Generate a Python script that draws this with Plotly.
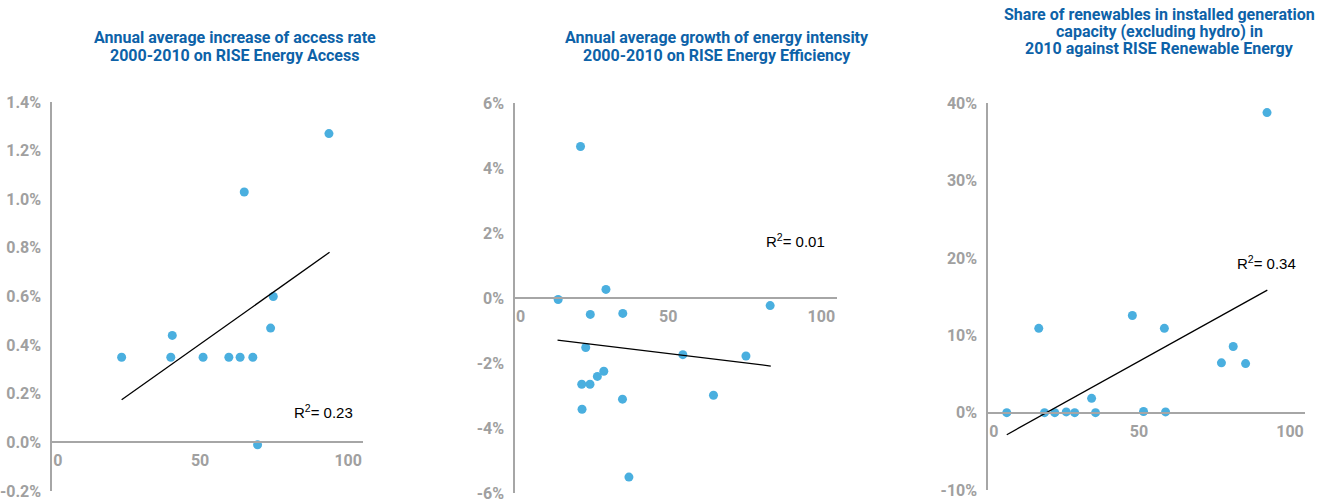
import plotly.graph_objects as go

# panel 1: access rate growth vs RISE Energy Access
access_x = [23.5, 40.1, 40.6, 51.0, 59.7, 63.5, 67.8, 64.9, 73.8, 74.7, 69.4, 93.5]
access_y = [0.35, 0.35, 0.44, 0.35, 0.35, 0.35, 0.35, 1.03, 0.47, 0.60, -0.01, 1.27]
access_trend_x = [23.5, 93.7]
access_trend_y = [0.175, 0.782]

# panel 2: energy intensity growth vs RISE Energy Efficiency
eff_x = [14.1, 21.4, 29.7, 24.6, 35.2, 83.3, 23.1, 54.8, 75.4, 29.0, 26.9, 21.8, 24.5, 35.1, 21.9, 64.8, 37.2]
eff_y = [-0.04, 4.67, 0.27, -0.50, -0.47, -0.23, -1.52, -1.74, -1.78, -2.25, -2.41, -2.65, -2.65, -3.11, -3.42, -2.99, -5.51]
eff_trend_x = [13.9, 83.5]
eff_trend_y = [-1.29, -2.09]

# panel 3: renewables share vs RISE Renewable Energy
ren_x = [6.2, 16.8, 18.7, 22.1, 25.9, 28.7, 34.3, 35.6, 47.8, 51.5, 58.4, 58.8, 77.3, 81.2, 85.3, 92.4]
ren_y = [0.0, 10.9, 0.0, 0.0, 0.1, 0.0, 1.85, 0.0, 12.56, 0.15, 10.9, 0.1, 6.44, 8.55, 6.35, 38.8]
ren_trend_x = [6.2, 92.5]
ren_trend_y = [-2.85, 15.84]

titles = [
    ["Annual average increase of access rate", "2000-2010 on RISE Energy Access"],
    ["Annual average growth of energy intensity", "2000-2010 on RISE Energy Efficiency"],
    ["Share of renewables in installed generation", "capacity (excluding hydro) in",
     "2010 against RISE Renewable Energy"],
]
r2_labels = ["R<sup>2</sup>= 0.23", "R<sup>2</sup>= 0.01", "R<sup>2</sup>= 0.34"]
r2_pos = [(91.5, 0.127), (91.7, 1.76), (92.2, 19.47)]

y_ticks = [
    [-0.2, 0.0, 0.2, 0.4, 0.6, 0.8, 1.0, 1.2, 1.4],
    [-6, -4, -2, 0, 2, 4, 6],
    [-10, 0, 10, 20, 30, 40],
]
y_ticktext = [
    ["-0.2%", "0.0%", "0.2%", "0.4%", "0.6%", "0.8%", "1.0%", "1.2%", "1.4%"],
    ["-6%", "-4%", "-2%", "0%", "2%", "4%", "6%"],
    ["-10%", "0%", "10%", "20%", "30%", "40%"],
]
x_ticks = [0, 50, 100]
# "0" sits just right of the y axis line in the original
x_ticktext = ["\u2002\u20090", "50", "100"]

DOT = "#4AAFDF"
GREY = "#A6A6A6"
TITLE = "#0D62A8"
TICKFONT = dict(family="Roboto", size=16, color="#A0A0A0", weight="bold")

W, H = 1341, 499
x_domains = [(0.0388, 0.2707), (0.3840, 0.6239), (0.7368, 0.9732)]
y_domains = [(0.016, 0.7956), (0.012, 0.793), (0.018, 0.793)]
title_x = [0.175, 0.535, 0.865]
title_top = [38, 38, 14]   # px from top, first line centre
LINE_GAP = 17.5

series = [
    (access_x, access_y, access_trend_x, access_trend_y),
    (eff_x, eff_y, eff_trend_x, eff_trend_y),
    (ren_x, ren_y, ren_trend_x, ren_trend_y),
]

fig = go.Figure()
layout = {}
annotations = []

for i, (sx, sy, tx, ty) in enumerate(series):
    n = "" if i == 0 else str(i + 1)
    xa, ya = "x" + n, "y" + n
    fig.add_trace(go.Scatter(
        x=sx, y=sy, mode="markers", xaxis=xa, yaxis=ya,
        marker=dict(size=9, color=DOT, line=dict(width=0)),
        showlegend=False, hoverinfo="x+y",
    ))
    fig.add_trace(go.Scatter(
        x=tx, y=ty, mode="lines", xaxis=xa, yaxis=ya,
        line=dict(color="black", width=1.3),
        showlegend=False, hoverinfo="skip",
    ))

    ymin, ymax = y_ticks[i][0], y_ticks[i][-1]
    d0, d1 = y_domains[i]
    zero_pos = d0 + (0 - ymin) / (ymax - ymin) * (d1 - d0)

    layout["xaxis" + n] = dict(
        domain=x_domains[i], range=[0, 105], anchor="free", position=zero_pos,
        showline=True, linecolor=GREY, linewidth=1.5, showgrid=False, zeroline=False,
        tickvals=x_ticks, ticktext=x_ticktext, ticks="", tickfont=TICKFONT,
        ticklabelstandoff=4, automargin=False,
    )
    layout["yaxis" + n] = dict(
        domain=y_domains[i], range=[ymin, ymax], anchor=xa,
        showline=True, linecolor=GREY, linewidth=1.5, showgrid=False, zeroline=False,
        tickvals=y_ticks[i], ticktext=y_ticktext[i], ticks="", tickfont=TICKFONT,
        ticklabelstandoff=6, automargin=False, ticklabeloverflow="allow",
    )

    for k, line in enumerate(titles[i]):
        annotations.append(dict(
            text=line, xref="paper", yref="paper", x=title_x[i],
            y=1 - (title_top[i] + k * LINE_GAP) / H,
            xanchor="center", yanchor="middle", showarrow=False,
            font=dict(family="Roboto", size=16, color=TITLE, weight="bold"),
        ))
    rx, ry = r2_pos[i]
    annotations.append(dict(
        text=r2_labels[i], xref=xa, yref=ya, x=rx, y=ry,
        xanchor="center", yanchor="middle", showarrow=False,
        font=dict(family="Liberation Sans", size=15, color="black"),
    ))

fig.update_layout(
    **layout,
    annotations=annotations,
    width=W, height=H,
    margin=dict(l=0, r=0, t=0, b=0),
    paper_bgcolor="white", plot_bgcolor="white",
)

# the page's default body margin would push the figure 8px off the window
fig.write_html(
    "out.html",
    config={"displayModeBar": False},
    post_script="document.body.style.margin='0';",
)
